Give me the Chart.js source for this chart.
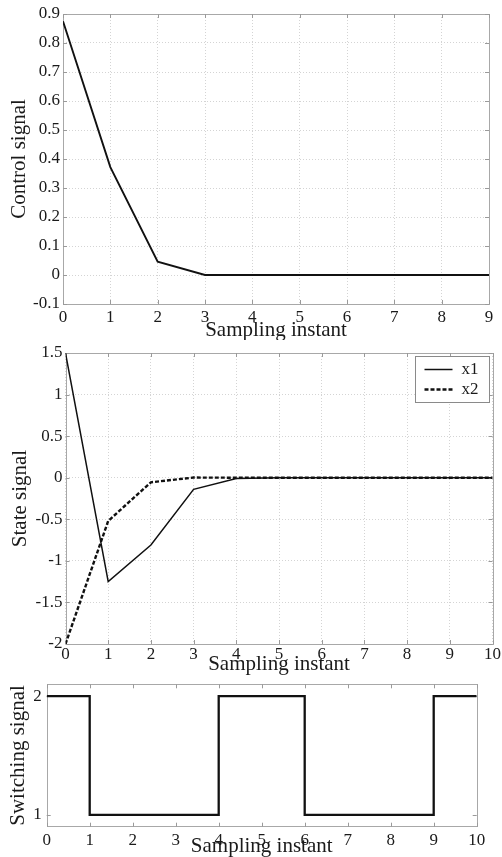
<!DOCTYPE html>
<html>
<head>
<meta charset="utf-8">
<script src="https://cdn.jsdelivr.net/npm/chart.js@4.4.1/dist/chart.umd.min.js"></script>
<style>
  html, body { margin: 0; padding: 0; background: #fff; }
  body { width: 502px; height: 857px; position: relative; overflow: hidden; }
  .box { position: absolute; left: 0; width: 502px; }
  canvas { display: block; }
</style>
</head>
<body>
<div class="box" style="top:0;height:340px"><canvas id="c1" width="502" height="340"></canvas></div>
<div class="box" style="top:340px;height:338px"><canvas id="c2" width="502" height="338"></canvas></div>
<div class="box" style="top:678px;height:179px"><canvas id="c3" width="502" height="179"></canvas></div>
<script>
// ---------- data ----------
const controlSteps = [0, 1, 2, 3, 4, 5, 6, 7, 8, 9];
const controlSignal = [0.875, 0.372, 0.046, 0, 0, 0, 0, 0, 0, 0];

const stateSteps = [0, 1, 2, 3, 4, 5, 6, 7, 8, 9, 10];
const stateX1 = [1.5, -1.25, -0.81, -0.14, -0.01, 0, 0, 0, 0, 0, 0];
const stateX2 = [-2, -0.52, -0.055, 0.002, 0, 0, 0, 0, 0, 0, 0];
const stateLabels = ['x1', 'x2'];

const switchSteps = [0, 1, 2, 3, 4, 5, 6, 7, 8, 9, 10];
const switchSignal = [2, 1, 1, 1, 2, 2, 1, 1, 1, 2, 2];

const controlYTicks = [-0.1, 0.9, 0.1];   // min, max, step
const stateYTicks = [-2, 1.5, 0.5];
const switchYTicks = [1, 2];

// ---------- helpers ----------
const FONT = "'Liberation Serif', 'Times New Roman', serif";
const TXT = '#1a1a1a';
const pts = (xs, ys) => xs.map((x, i) => ({ x: x, y: ys[i] }));
const fmt = v => String(parseFloat(Number(v).toFixed(2)));

function fixFit(size) {
  return function (scale) {
    if (scale.isHorizontal()) scale.height = size; else scale.width = size;
    scale.paddingLeft = 0; scale.paddingRight = 0;
    scale.paddingTop = 0; scale.paddingBottom = 0;
  };
}

const framePlugin = {
  id: 'frame',
  beforeDatasetsDraw(chart) {
    const { ctx, chartArea: a } = chart;
    const xs = chart.scales.x, ys = chart.scales.y;
    ctx.save();
    ctx.strokeStyle = '#a8a8a8';
    ctx.lineWidth = 1;
    ctx.setLineDash([]);
    ctx.strokeRect(Math.round(a.left) + 0.5, Math.round(a.top) + 0.5,
                   Math.round(a.right - a.left), Math.round(a.bottom - a.top));
    const L = 4;
    ctx.strokeStyle = '#9a9a9a';
    ctx.beginPath();
    xs.ticks.forEach(t => {
      const px = Math.round(xs.getPixelForValue(t.value)) + 0.5;
      ctx.moveTo(px, a.bottom); ctx.lineTo(px, a.bottom - L);
      ctx.moveTo(px, a.top); ctx.lineTo(px, a.top + L);
    });
    ys.ticks.forEach(t => {
      const py = Math.round(ys.getPixelForValue(t.value)) + 0.5;
      ctx.moveTo(a.left, py); ctx.lineTo(a.left + L, py);
      ctx.moveTo(a.right, py); ctx.lineTo(a.right - L, py);
    });
    ctx.stroke();
    ctx.restore();
  }
};

const legendBoxPlugin = {
  id: 'legendBox',
  afterDraw(chart) {
    const { ctx, chartArea: a } = chart;
    const ds = chart.data.datasets;
    const w = 74, h = 46;
    const x0 = Math.round(a.right - 3.5 - w) + 0.5, y0 = Math.round(a.top + 3) + 0.5;
    ctx.save();
    ctx.fillStyle = '#fff';
    ctx.fillRect(x0, y0, w, h);
    ctx.strokeStyle = '#8a8a8a';
    ctx.lineWidth = 1;
    ctx.strokeRect(x0, y0, w, h);
    ds.forEach((d, i) => {
      const y = y0 + 13 + i * 20;
      ctx.beginPath();
      ctx.strokeStyle = d.borderColor;
      ctx.lineWidth = d.borderWidth;
      ctx.setLineDash(d.borderDash || []);
      ctx.moveTo(x0 + 9, y); ctx.lineTo(x0 + 37, y);
      ctx.stroke();
      ctx.setLineDash([]);
      ctx.fillStyle = TXT;
      ctx.font = "17px " + FONT;
      ctx.textBaseline = 'middle';
      ctx.textAlign = 'left';
      ctx.fillText(d.label, x0 + 46, y);
    });
    ctx.restore();
  }
};

function baseOptions(o) {
  return {
    responsive: false,
    animation: false,
    events: [],
    layout: { padding: o.pad },
    plugins: { legend: { display: false }, tooltip: { enabled: false } },
    elements: { point: { radius: 0 }, line: { tension: 0 } },
    scales: {
      x: {
        type: 'linear', min: o.xmin, max: o.xmax,
        afterFit: fixFit(o.xh),
        afterBuildTicks: s => { s.ticks = o.xticks.map(v => ({ value: v })); },
        grid: { display: o.grid, drawTicks: false, color: '#d4d4d4', lineWidth: 1 },
        border: { display: false, dash: [1, 2] },
        ticks: { padding: o.xpad, color: TXT, font: { family: FONT, size: 17 }, maxRotation: 0, autoSkip: false, callback: fmt },
        title: { display: true, text: 'Sampling instant', color: TXT,
                 font: { family: FONT, size: 21, lineHeight: 1 }, padding: { top: 0, bottom: o.xtitlePad } }
      },
      y: {
        type: 'linear', min: o.ymin, max: o.ymax,
        afterFit: fixFit(o.yw),
        afterBuildTicks: s => { s.ticks = o.yticks.map(v => ({ value: v })); },
        grid: { display: o.grid, drawTicks: false, color: '#d4d4d4', lineWidth: 1 },
        border: { display: false, dash: [1, 2] },
        ticks: { padding: o.ypad, color: TXT, font: { family: FONT, size: 17 }, autoSkip: false, callback: fmt },
        title: { display: true, text: o.ytitle, color: TXT,
                 font: { family: FONT, size: 21, lineHeight: 1 }, padding: { top: o.ytitlePad, bottom: 0 } }
      }
    }
  };
}

function range(a, b, s) { const r = []; for (let v = a; v <= b + 1e-9; v += s) r.push(parseFloat(v.toFixed(2))); return r; }

// ---------- chart 1 ----------
new Chart(document.getElementById('c1'), {
  type: 'line',
  data: { datasets: [{ label: 'u', data: pts(controlSteps, controlSignal), borderColor: '#111', borderWidth: 1.9, fill: false }] },
  options: baseOptions({
    pad: { top: 14, right: 13, left: 0, bottom: 0 },
    xmin: 0, xmax: 9, xh: 36, xpad: 3, xtitlePad: -1, xticks: controlSteps,
    ymin: controlYTicks[0], ymax: controlYTicks[1], yw: 63, ypad: 3, ytitlePad: 8.5,
    yticks: range(controlYTicks[0], controlYTicks[1], controlYTicks[2]),
    ytitle: 'Control signal', grid: true
  }),
  plugins: [framePlugin]
});

// ---------- chart 2 ----------
new Chart(document.getElementById('c2'), {
  type: 'line',
  data: { datasets: [
    { label: stateLabels[0], data: pts(stateSteps, stateX1), borderColor: '#111', borderWidth: 1.5, fill: false },
    { label: stateLabels[1], data: pts(stateSteps, stateX2), borderColor: '#111', borderWidth: 2.4, borderDash: [4, 2], fill: false }
  ] },
  options: baseOptions({
    pad: { top: 13, right: 9.5, left: 0, bottom: 0 },
    xmin: 0, xmax: 10, xh: 34, xpad: 0, xtitlePad: 3, xticks: stateSteps,
    ymin: stateYTicks[0], ymax: stateYTicks[1], yw: 65.5, ypad: 3, ytitlePad: 9.5,
    yticks: range(stateYTicks[0], stateYTicks[1], stateYTicks[2]),
    ytitle: 'State signal', grid: true
  }),
  plugins: [framePlugin, legendBoxPlugin]
});

// ---------- chart 3 ----------
new Chart(document.getElementById('c3'), {
  type: 'line',
  data: { datasets: [{ label: 'sigma', data: pts(switchSteps, switchSignal), borderColor: '#111', borderWidth: 2.3, stepped: 'before', fill: false }] },
  options: baseOptions({
    pad: { top: 6.3, right: 25.3, left: 0, bottom: 0 },
    xmin: 0, xmax: 10, xh: 30.3, xpad: 3.5, xtitlePad: 0, xticks: switchSteps,
    ymin: 0.9, ymax: 2.1, yw: 46.7, ypad: 5, ytitlePad: 7.8,
    yticks: switchYTicks,
    ytitle: 'Switching signal', grid: false
  }),
  plugins: [framePlugin]
});
</script>
</body>
</html>
